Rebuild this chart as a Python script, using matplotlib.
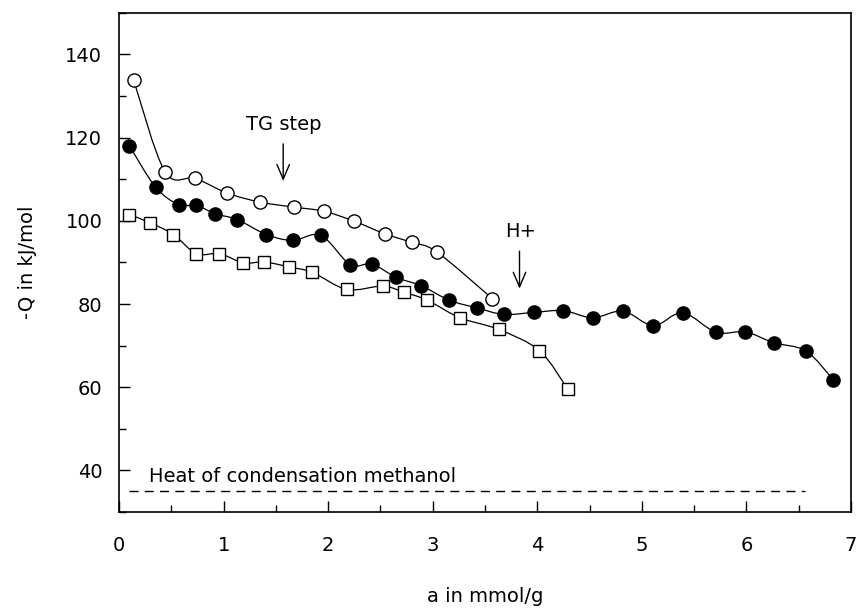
import numpy as np
import matplotlib
matplotlib.use("Agg")
import matplotlib.pyplot as plt
from matplotlib.path import Path
from matplotlib.patches import PathPatch
from matplotlib.ticker import MultipleLocator

# values
open_x = [0.14, 0.44, 0.73, 1.03, 1.35, 1.67, 1.96, 2.25, 2.54, 2.80, 3.04, 3.57]
open_y = [133.8, 111.8, 110.2, 106.7, 104.5, 103.3, 102.3, 99.9, 96.9, 94.8, 92.5, 81.3]

filled_x = [0.10, 0.35, 0.57, 0.74, 0.92, 1.13, 1.41, 1.66, 1.93, 2.21, 2.42, 2.65, 2.89,
            3.16, 3.42, 3.68, 3.97, 4.25, 4.53, 4.82, 5.11, 5.39, 5.71, 5.99, 6.26, 6.57, 6.83]
filled_y = [118.0, 108.1, 103.9, 103.7, 101.7, 100.3, 96.7, 95.3, 96.5, 89.5, 89.6, 86.4, 84.4,
            80.9, 79.1, 77.5, 78.0, 78.4, 76.7, 78.3, 74.8, 77.9, 73.2, 73.3, 70.7, 68.7, 61.8]

square_x = [0.10, 0.30, 0.52, 0.74, 0.96, 1.19, 1.39, 1.63, 1.85, 2.18, 2.52, 2.73, 2.95,
            3.26, 3.63, 4.02, 4.29]
square_y = [101.5, 99.5, 96.7, 92.1, 92.1, 89.9, 90.1, 88.9, 87.6, 83.5, 84.3, 82.8, 80.9,
            76.7, 73.9, 68.8, 59.6]

heat_methanol = 35.0
heat_x = [0.10, 6.56]

x_ticks = [0, 1, 2, 3, 4, 5, 6, 7]
y_ticks = [40, 60, 80, 100, 120, 140]

plt.rcParams['font.family'] = ['DejaVu Sans']


def smooth_path(xs, ys):
    # catmull-rom through the points, handed to matplotlib as cubic bezier segments
    p = np.column_stack([xs, ys]).astype(float)
    pts = np.vstack([p[0], p, p[-1]])
    verts = [p[0]]
    codes = [Path.MOVETO]
    for i in range(1, len(pts) - 2):
        p0, p1, p2, p3 = pts[i - 1], pts[i], pts[i + 1], pts[i + 2]
        c1 = p1 + (p2 - p0) / 6.0
        c2 = p2 - (p3 - p1) / 6.0
        verts += [c1, c2, p2]
        codes += [Path.CURVE4] * 3
    return Path(verts, codes)


fig = plt.figure(figsize=(8.6, 6.11), dpi=100)
ax = fig.add_subplot(111)
fig.subplots_adjust(left=0.1384, right=0.9895, top=0.979, bottom=0.162)

for xs, ys in [(open_x, open_y), (filled_x, filled_y), (square_x, square_y)]:
    ax.add_patch(PathPatch(smooth_path(xs, ys), facecolor='none', edgecolor='black', lw=0.9, zorder=2))

ax.plot(open_x, open_y, 'o', ms=9.5, mfc='white', mec='black', mew=1.0, zorder=3)
ax.plot(filled_x, filled_y, 'o', ms=9.5, mfc='black', mec='black', mew=1.0, zorder=3)
ax.plot(square_x, square_y, 's', ms=9, mfc='white', mec='black', mew=1.0, zorder=3)

ax.plot(heat_x, [heat_methanol, heat_methanol], color='black', lw=1, dashes=(6.5, 4.5))
ax.text(0.29, 37.1, 'Heat of condensation methanol', fontsize=14, ha='left', va='baseline')

# annotations
ax.text(1.58, 121.8, 'TG step', fontsize=14, ha='center', va='baseline')
ax.annotate('', xy=(1.57, 109.6), xytext=(1.57, 118.5),
            arrowprops=dict(arrowstyle='->,head_width=0.3,head_length=0.7', lw=1, color='black',
                            shrinkA=0, shrinkB=0, mutation_scale=15))
ax.text(3.84, 96.1, 'H+', fontsize=14, ha='center', va='baseline')
ax.annotate('', xy=(3.83, 83.7), xytext=(3.83, 92.7),
            arrowprops=dict(arrowstyle='->,head_width=0.3,head_length=0.7', lw=1, color='black',
                            shrinkA=0, shrinkB=0, mutation_scale=15))

ax.set_xlim(0, 7)
ax.set_ylim(30, 150)
ax.set_xticks(x_ticks)
ax.set_yticks(y_ticks)
ax.xaxis.set_minor_locator(MultipleLocator(0.5))
ax.yaxis.set_minor_locator(MultipleLocator(10))
ax.tick_params(which='major', direction='in', length=8, width=1, labelsize=14)
ax.tick_params(which='minor', direction='in', length=5, width=1)
ax.tick_params(axis='x', which='major', pad=17)
ax.tick_params(axis='y', which='major', pad=12)
for s in ax.spines.values():
    s.set_linewidth(1.2)

ax.set_xlabel('a in mmol/g', fontsize=14, va='center')
ax.set_ylabel('-Q in kJ/mol', fontsize=14, va='center')
ax.xaxis.set_label_coords(0.5, -0.17)
ax.yaxis.set_label_coords(-0.1257, 0.5)

fig.savefig('out.png', dpi=100)
